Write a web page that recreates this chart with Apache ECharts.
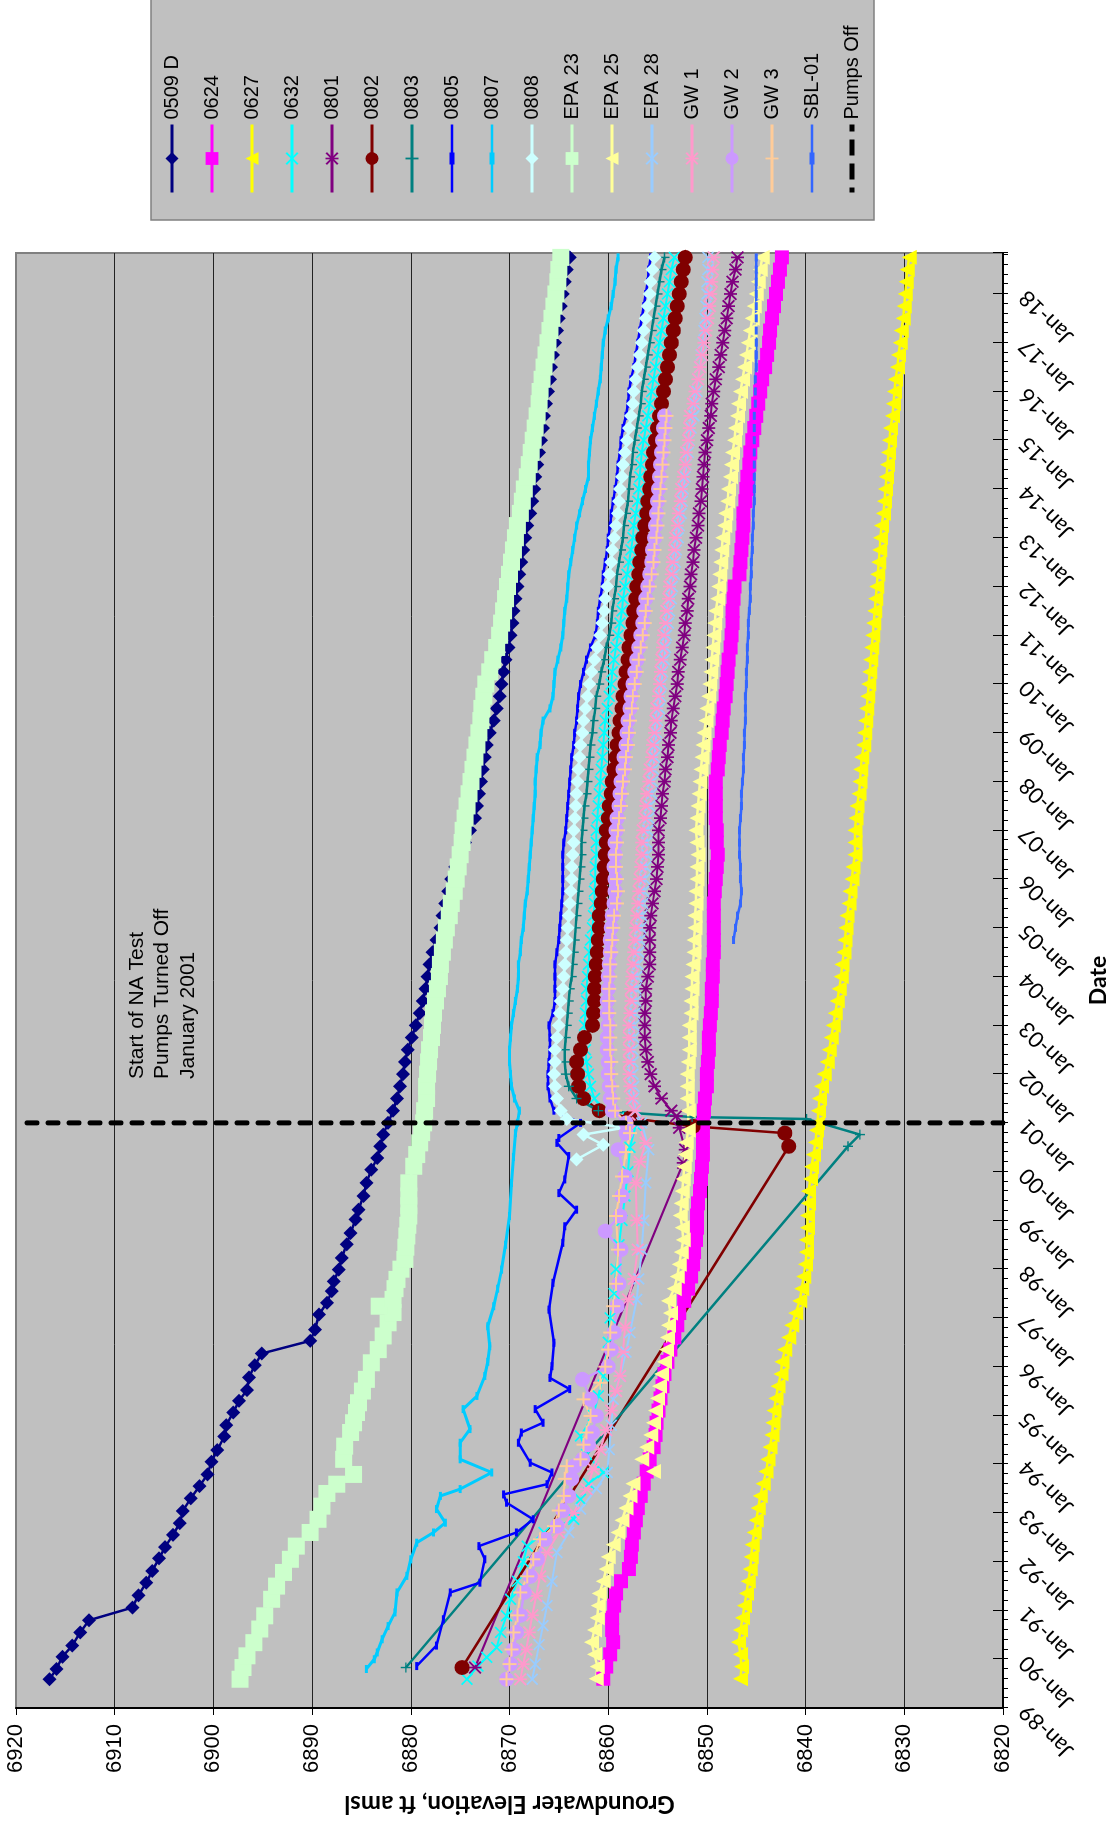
<!DOCTYPE html>
<html><head><meta charset="utf-8">
<script src="https://cdn.jsdelivr.net/npm/echarts@6/dist/echarts.min.js"></script>
<style>
html,body{margin:0;padding:0;width:1117px;height:1826px;overflow:hidden;background:#fff}
#chart{position:absolute;left:0;top:0;width:1826px;height:1117px;transform-origin:0 0;transform:translate(0,1826px) rotate(-90deg)}
</style></head>
<body><div id="chart"></div>
<script>
// ---------- tick labels ----------
const dateTickLabels = ['Jan-89','Jan-90','Jan-91','Jan-92','Jan-93','Jan-94','Jan-95','Jan-96','Jan-97','Jan-98','Jan-99','Jan-00','Jan-01','Jan-02','Jan-03','Jan-04','Jan-05','Jan-06','Jan-07','Jan-08','Jan-09','Jan-10','Jan-11','Jan-12','Jan-13','Jan-14','Jan-15','Jan-16','Jan-17','Jan-18'];
const firstYear = 1989;
const lastDate = 2018.84;
const elevMin = 6820, elevMax = 6920, elevStep = 10;
const pumpsOffDate = 2001.0;

// ---------- quarterly dates after pumps off (decimal years) ----------
const Q = [2001.25,2001.5,2001.75,
2002,2002.25,2002.5,2002.75,2003,2003.25,2003.5,2003.75,2004,2004.25,2004.5,2004.75,
2005,2005.25,2005.5,2005.75,2006,2006.25,2006.5,2006.75,2007,2007.25,2007.5,2007.75,
2008,2008.25,2008.5,2008.75,2009,2009.25,2009.5,2009.75,2010,2010.25,2010.5,2010.75,
2011,2011.25,2011.5,2011.75,2012,2012.25,2012.5,2012.75,2013,2013.25,2013.5,2013.75,
2014,2014.25,2014.5,2014.75,2015,2015.25,2015.5,2015.75,2016,2016.25,2016.5,2016.75,
2017,2017.25,2017.5,2017.75,2018,2018.25,2018.5,2018.75];

// ---------- readings up to the pumps-off date: [decimal year, elevation] ----------
const p0509 = [[1989.59,6916.6],[1989.80,6915.9],[1990.05,6915.3],[1990.28,6914.3],[1990.55,6913.5],[1990.80,6912.6],[1991.06,6908.2],[1991.31,6907.6],[1991.57,6906.8],[1991.81,6906.2],[1992.07,6905.5],[1992.30,6904.9],[1992.55,6904.1],[1992.79,6903.4],[1993.04,6903.1],[1993.30,6902.3],[1993.55,6901.4],[1993.79,6900.6],[1994.05,6900.2],[1994.29,6899.6],[1994.57,6898.9],[1994.80,6898.7],[1995.06,6898.0],[1995.30,6897.4],[1995.52,6896.6],[1995.78,6896.4],[1996.03,6895.8],[1996.27,6895.1],[1996.53,6890.2],[1996.76,6889.7],[1997.07,6889.3],[1997.31,6888.5],[1997.55,6888.0],[1997.75,6887.8],[1997.99,6887.3],[1998.23,6887.0],[1998.51,6886.5],[1998.74,6886.1],[1999.02,6885.6],[1999.22,6885.3],[1999.50,6884.8],[1999.77,6884.5],[2000.04,6884.0],[2000.28,6883.4],[2000.52,6883.1],[2000.76,6882.8],[2001.00,6882.3]];
const p0624 = [[1989.6,6860.5],[1989.85,6860.2],[1990.1,6859.8],[1990.35,6859.5],[1990.6,6859.6],[1990.85,6859.6],[1991.1,6859.4],[1991.35,6859.2],[1991.6,6858.7],[1991.85,6857.9],[1992.1,6857.7],[1992.35,6857.6],[1992.6,6857.4],[1992.85,6857.2],[1993.1,6857.0],[1993.35,6856.7],[1993.6,6856.4],[1993.85,6856.1],[1994.1,6855.8],[1994.35,6855.4],[1994.6,6855.2],[1994.85,6855.1],[1995.1,6854.9],[1995.35,6854.7],[1995.6,6854.5],[1995.85,6854.3],[1996.1,6854.0],[1996.35,6853.7],[1996.6,6853.3],[1996.85,6853.0],[1997.1,6852.8],[1997.35,6852.3],[1997.6,6851.9],[1997.85,6851.6],[1998.1,6851.4],[1998.35,6851.3],[1998.6,6851.1],[1998.85,6851.0],[1999.1,6851.0],[1999.35,6850.9],[1999.6,6850.7],[1999.85,6850.6],[2000.1,6850.5],[2000.35,6850.4],[2000.6,6850.4],[2000.85,6850.4],[2001.0,6850.4]];
const p0627 = [[1989.6,6846.6],[1989.85,6846.5],[1990.1,6846.6],[1990.35,6846.8],[1990.6,6846.6],[1990.85,6846.4],[1991.1,6846.2],[1991.35,6846.0],[1991.6,6845.8],[1991.85,6845.6],[1992.1,6845.5],[1992.35,6845.4],[1992.6,6845.2],[1992.85,6845.0],[1993.1,6844.8],[1993.35,6844.6],[1993.6,6844.3],[1993.85,6844.0],[1994.1,6843.8],[1994.35,6843.6],[1994.6,6843.4],[1994.85,6843.3],[1995.1,6843.2],[1995.35,6843.0],[1995.6,6842.8],[1995.85,6842.5],[1996.1,6842.4],[1996.35,6842.1],[1996.6,6841.7],[1996.85,6841.4],[1997.1,6841.0],[1997.35,6840.6],[1997.6,6840.4],[1997.85,6840.2],[1998.1,6840.0],[1998.35,6839.9],[1998.6,6839.9],[1998.85,6839.8],[1999.1,6839.8],[1999.35,6839.7],[1999.6,6839.7],[1999.85,6839.5],[2000.1,6839.4],[2000.35,6839.2],[2000.6,6839.0],[2000.85,6838.9],[2001.0,6838.8]];
const p0632 = [[1989.59,6874.3],[1989.86,6873.2],[1990.04,6872.3],[1990.24,6871.3],[1990.55,6870.9],[1990.89,6870.3],[1991.23,6869.9],[1991.60,6869.2],[1992.00,6868.6],[1992.32,6868.2],[1992.60,6866.5],[1992.87,6863.5],[1993.28,6862.8],[1993.60,6862.0],[1993.83,6860.5],[1994.20,6862.2],[1994.58,6862.8],[1995.00,6861.5],[1995.40,6861.0],[1995.81,6860.5],[1996.50,6860.0],[1997.00,6859.8],[1997.50,6859.4],[1998.00,6859.2],[1998.50,6858.9],[1999.00,6858.6],[1999.50,6858.3],[2000.00,6858.0],[2000.50,6857.8],[2000.95,6857.2],[2001.10,6858.0]];
const p0801 = [[1989.83,6873.5],[2000.18,6852.4],[2000.45,6852.2],[2000.90,6852.8],[2001.14,6853.1]];
const p0802 = [[1989.83,6874.8],[2000.52,6841.7],[2000.79,6842.1],[2000.93,6851.4],[2001.10,6857.8]];
const p0803 = [[1989.83,6880.5],[2000.52,6835.7],[2000.76,6834.5],[2001.08,6839.9],[2001.12,6851.5]];
const p0805 = [[1989.86,6879.4],[1990.28,6877.4],[1990.82,6876.7],[1991.37,6876.0],[1991.57,6873.0],[1992.05,6872.5],[1992.32,6873.1],[1992.60,6869.3],[1992.87,6867.6],[1993.21,6870.3],[1993.38,6870.6],[1993.59,6866.2],[1993.83,6865.7],[1994.03,6867.9],[1994.44,6869.1],[1994.65,6868.8],[1994.85,6866.6],[1995.13,6867.4],[1995.54,6863.9],[1995.77,6865.9],[1996.01,6865.7],[1996.49,6865.5],[1997.17,6866.0],[1997.72,6865.6],[1998.54,6864.6],[1998.88,6864.4],[1999.22,6863.2],[1999.56,6865.0],[1999.84,6864.4],[2000.32,6864.0],[2000.59,6865.2],[2000.69,6865.0],[2001.00,6862.8]];
const p0807 = [[1989.80,6884.5],[1990.00,6883.7],[1990.14,6883.4],[1990.41,6882.9],[1990.68,6882.3],[1990.96,6881.6],[1991.37,6881.4],[1991.71,6880.4],[1992.05,6880.0],[1992.39,6879.4],[1992.60,6877.7],[1992.80,6876.5],[1993.08,6877.4],[1993.35,6877.0],[1993.49,6875.0],[1993.83,6871.8],[1994.10,6875.0],[1994.44,6875.0],[1994.72,6874.0],[1995.13,6874.7],[1995.40,6873.3],[1995.81,6872.5],[1996.10,6872.2],[1996.42,6872.0],[1996.83,6872.2],[1997.24,6871.6],[1997.60,6871.2],[1997.99,6870.8],[1998.50,6870.4],[1999.09,6870.0],[1999.77,6869.8],[2000.30,6869.6],[2000.79,6869.4],[2001.00,6869.2]];
const p0808 = [[2000.25,6863.2],[2000.55,6860.5],[2000.76,6862.5],[2000.90,6858.4],[2001.08,6864.2]];
const pEPA23 = [[1989.59,6897.3],[1989.83,6897.0],[1990.07,6896.6],[1990.34,6895.9],[1990.62,6895.3],[1990.89,6894.8],[1991.23,6894.1],[1991.50,6893.6],[1991.78,6892.9],[1992.05,6892.2],[1992.32,6891.6],[1992.60,6890.2],[1992.87,6889.4],[1993.14,6889.0],[1993.40,6888.5],[1993.59,6887.5],[1993.79,6885.8],[1994.10,6886.8],[1994.37,6886.7],[1994.65,6886.1],[1994.85,6885.8],[1995.06,6885.5],[1995.26,6885.3],[1995.50,6884.9],[1995.74,6884.5],[1996.08,6884.0],[1996.35,6883.3],[1996.63,6882.8],[1996.90,6882.3],[1997.11,6881.8],[1997.24,6883.2],[1997.38,6881.8],[1997.60,6881.6],[1997.79,6881.4],[1998.00,6881.0],[1998.20,6880.6],[1998.45,6880.5],[1998.68,6880.4],[1998.90,6880.3],[1999.09,6880.2],[1999.30,6880.2],[1999.50,6880.2],[1999.77,6880.2],[2000.11,6879.7],[2000.35,6879.4],[2000.59,6879.1],[2000.80,6878.9],[2001.00,6878.7]];
const pEPA25 = [[1989.6,6861.2],[1989.85,6861.1],[1990.1,6861.4],[1990.35,6861.7],[1990.6,6861.4],[1990.85,6861.1],[1991.1,6861.0],[1991.35,6860.9],[1991.6,6860.5],[1991.85,6860.2],[1992.1,6860.0],[1992.35,6859.5],[1992.6,6859.0],[1992.85,6858.6],[1993.1,6858.2],[1993.35,6857.8],[1993.6,6857.5],[1993.85,6855.4],[1994.1,6856.6],[1994.35,6856.1],[1994.6,6855.7],[1994.85,6855.4],[1995.1,6855.2],[1995.35,6855.0],[1995.6,6854.8],[1995.85,6854.6],[1996.1,6854.3],[1996.35,6854.1],[1996.6,6854.0],[1996.85,6853.9],[1997.1,6853.7],[1997.35,6853.9],[1997.6,6853.3],[1997.85,6853.0],[1998.1,6852.8],[1998.35,6852.6],[1998.6,6852.4],[1998.85,6852.5],[1999.1,6852.7],[1999.35,6852.6],[1999.6,6852.5],[1999.85,6852.4],[2000.1,6852.3],[2000.35,6852.2],[2000.6,6852.1],[2000.85,6851.9]];
const pEPA28 = [[1989.59,6867.7],[1989.90,6867.4],[1990.30,6867.0],[1990.69,6866.6],[1991.10,6866.2],[1991.60,6865.7],[1992.19,6865.2],[1992.60,6864.0],[1993.08,6862.8],[1993.50,6861.2],[1993.83,6860.1],[1994.30,6859.9],[1994.80,6859.7],[1995.33,6859.5],[1995.80,6858.8],[1996.30,6858.2],[1996.70,6857.8],[1997.38,6857.1],[1997.80,6856.9],[1998.40,6856.6],[1999.00,6856.4],[1999.77,6856.2],[2000.45,6855.9],[2001.00,6856.6]];
const pGW1 = [[1989.59,6868.9],[1989.90,6868.6],[1990.20,6868.3],[1990.55,6868.0],[1990.90,6867.7],[1991.30,6867.3],[1991.70,6866.9],[1992.19,6866.2],[1992.60,6865.0],[1993.00,6863.5],[1993.49,6862.2],[1993.90,6861.5],[1994.30,6860.8],[1994.70,6860.2],[1995.10,6859.7],[1995.50,6859.2],[1995.81,6858.8],[1996.30,6858.5],[1996.80,6858.3],[1997.38,6858.0],[1997.80,6857.4],[1998.40,6857.0],[1999.00,6857.1],[1999.77,6857.2],[2000.20,6856.8],[2000.59,6856.2],[2001.00,6857.0]];
const pGW2 = [[1989.59,6870.3],[1989.90,6869.9],[1990.20,6869.6],[1990.55,6869.3],[1990.90,6868.9],[1991.37,6868.5],[1991.70,6867.9],[1992.05,6867.2],[1992.46,6866.4],[1992.73,6865.2],[1993.05,6864.6],[1993.35,6864.0],[1993.70,6863.7],[1993.96,6863.4],[1994.10,6862.6],[1994.40,6862.0],[1994.65,6861.6],[1994.99,6861.2],[1995.33,6861.8],[1995.74,6862.6],[1996.00,6860.0],[1996.35,6859.7],[1996.70,6859.4],[1997.24,6859.1],[1997.70,6858.9],[1998.40,6858.7],[1998.78,6860.3],[1999.09,6858.8],[1999.50,6858.6],[1999.90,6858.3],[2000.45,6859.0],[2000.79,6858.2],[2001.00,6858.2]];
const pGW3 = [[1989.59,6870.3],[1989.90,6870.0],[1990.20,6869.8],[1990.55,6869.6],[1990.90,6869.2],[1991.37,6868.9],[1991.70,6868.2],[1992.05,6867.6],[1992.46,6866.9],[1992.73,6865.5],[1993.05,6865.0],[1993.35,6864.5],[1993.70,6864.4],[1993.96,6864.2],[1994.10,6862.8],[1994.40,6862.5],[1994.65,6862.2],[1994.99,6861.8],[1995.33,6862.5],[1995.67,6860.8],[1996.00,6860.3],[1996.35,6860.0],[1996.70,6859.8],[1997.24,6859.5],[1997.70,6859.2],[1998.40,6859.0],[1999.09,6859.2],[1999.50,6858.9],[1999.90,6858.6],[2000.40,6858.2],[2000.79,6857.8],[2001.00,6858.2]];
const pSBL = [];

// ---------- quarterly readings after pumps off (aligned with Q) ----------
const v0509 = [6881.8,6881.4,6881.1,
6880.8,6880.6,6880.3,6879.9, 6879.5,6879.1,6878.8,6878.5, 6878.3,6878.1,6877.8,6877.4,
6877.0,6876.8,6876.5,6876.2, 6875.9,6875.5,6875.0,6874.5, 6874.0,6873.5,6873.3,6873.1,
6872.9,6872.7,6872.5,6872.3, 6872.0,6871.6,6871.3,6871.0, 6870.8,6870.6,6870.4,6870.1,
6869.9,6869.7,6869.6,6869.4, 6869.2,6869.0,6868.8,6868.6, 6868.4,6868.2,6867.9,6867.7,
6867.5,6867.4,6867.2,6867.0, 6866.8,6866.6,6866.5,6866.3, 6866.1,6865.9,6865.8,6865.6,
6865.4,6865.2,6865.0,6864.8, 6864.6,6864.4,6864.2,6863.9];
const v0624 = [6850.3,6850.2,6850.0,
6850.0,6849.9,6849.8,6849.8, 6849.7,6849.6,6849.5,6849.5, 6849.4,6849.4,6849.3,6849.3,
6849.3,6849.3,6849.3,6849.2, 6849.1,6849.0,6848.9,6849.0, 6849.0,6849.1,6849.1,6849.1,
6849.1,6848.9,6848.8,6848.7, 6848.5,6848.4,6848.3,6848.1, 6848.0,6847.9,6847.8,6847.6,
6847.5,6847.4,6847.4,6847.3, 6847.2,6846.7,6846.6,6846.5, 6846.4,6846.3,6846.3,6846.1,
6846.0,6845.9,6845.7,6845.6, 6845.4,6845.2,6845.0,6844.8, 6844.6,6844.4,6844.1,6843.9,
6843.7,6843.6,6843.4,6843.2, 6843.0,6842.8,6842.6,6842.4];
const v0627 = [6838.7,6838.6,6838.4,
6838.1,6837.8,6837.6,6837.4, 6837.2,6837.0,6836.8,6836.6, 6836.4,6836.3,6836.1,6836.0,
6835.9,6835.8,6835.6,6835.5, 6835.3,6835.2,6835.0,6835.0, 6835.0,6834.9,6834.8,6834.6,
6834.5,6834.4,6834.3,6834.1, 6834.0,6833.9,6833.8,6833.7, 6833.6,6833.5,6833.4,6833.3,
6833.2,6833.1,6833.0,6832.9, 6832.8,6832.7,6832.6,6832.5, 6832.4,6832.3,6832.1,6832.0,
6831.9,6831.8,6831.7,6831.6, 6831.5,6831.4,6831.2,6831.1, 6831.0,6830.9,6830.7,6830.6,
6830.4,6830.3,6830.1,6830.0, 6829.9,6829.8,6829.7,6829.5];
const v0632 = [6860.5,6861.4,6861.8,
6862.0,6862.2,6862.3,6862.4, 6862.4,6862.3,6862.2,6862.2, 6862.1,6862.0,6861.9,6861.8,
6861.6,6861.5,6861.4,6861.4, 6861.3,6861.3,6861.2,6861.2, 6861.2,6861.1,6861.0,6860.9,
6860.8,6860.7,6860.6,6860.5, 6860.4,6860.3,6860.1,6859.9, 6859.7,6859.6,6859.4,6859.2,
6859.0,6858.8,6858.6,6858.5, 6858.3,6858.1,6857.9,6857.7, 6857.5,6857.4,6857.2,6857.0,
6856.9,6856.8,6856.7,6856.6, 6856.4,6856.2,6856.0,6855.8, 6855.6,6855.4,6855.2,6855.0,
6854.8,6854.6,6854.4,6854.2, 6854.0,6853.8,6853.6,6853.3];
const v0801 = [6853.6,6854.6,6855.3,
6855.7,6856.0,6856.2,6856.3, 6856.3,6856.3,6856.2,6856.2, 6856.0,6855.8,6855.8,6855.8,
6855.8,6855.7,6855.5,6855.3, 6855.1,6855.0,6854.9,6854.9, 6854.9,6854.7,6854.6,6854.5,
6854.3,6854.2,6854.0,6853.9, 6853.7,6853.6,6853.4,6853.2, 6853.0,6852.9,6852.7,6852.5,
6852.3,6852.2,6852.0,6851.9, 6851.7,6851.6,6851.4,6851.3, 6851.1,6850.9,6850.8,6850.6,
6850.5,6850.4,6850.3,6850.2, 6850.0,6849.8,6849.6,6849.5, 6849.3,6849.1,6848.8,6848.6,
6848.4,6848.2,6848.0,6847.8, 6847.6,6847.4,6847.1,6846.9];
const v0802 = [6860.9,6862.5,6863.0,
6863.1,6863.2,6862.8,6862.4, 6861.6,6861.5,6861.4,6861.4, 6861.3,6861.2,6861.1,6861.0,
6860.9,6860.9,6860.7,6860.6, 6860.5,6860.4,6860.3,6860.2, 6860.2,6860.0,6859.9,6859.7,
6859.6,6859.4,6859.2,6859.1, 6858.9,6858.8,6858.6,6858.5, 6858.3,6858.2,6858.0,6857.9,
6857.7,6857.5,6857.4,6857.2, 6857.1,6856.9,6856.8,6856.6, 6856.5,6856.3,6856.1,6856.0,
6855.8,6855.7,6855.5,6855.4, 6855.2,6855.0,6854.8,6854.6, 6854.4,6854.2,6854.0,6853.8,
6853.6,6853.4,6853.2,6853.0, 6852.8,6852.6,6852.4,6852.2];
const v0803 = [6861.0,6863.2,6864.0,
6864.3,6864.4,6864.4,6864.3, 6864.2,6864.1,6864.0,6863.9, 6863.7,6863.6,6863.5,6863.4,
6863.3,6863.2,6863.1,6863.0, 6862.9,6862.8,6862.7,6862.7, 6862.6,6862.5,6862.4,6862.2,
6862.1,6862.0,6861.9,6861.8, 6861.6,6861.5,6861.3,6861.2, 6860.9,6860.7,6860.4,6860.2,
6859.9,6859.7,6859.6,6859.4, 6859.2,6859.1,6858.9,6858.7, 6858.5,6858.4,6858.2,6858.0,
6857.9,6857.8,6857.6,6857.5, 6857.3,6857.1,6856.9,6856.7, 6856.6,6856.4,6856.2,6856.0,
6855.8,6855.6,6855.4,6855.2, 6855.0,6854.8,6854.6,6854.3];
const v0805 = [6865.5,6865.9,6866.1,
6866.1,6866.0,6865.9,6865.9, 6866.0,6865.6,6865.4,6865.4, 6865.4,6865.4,6865.2,6865.0,
6864.9,6864.8,6864.7,6864.6, 6864.6,6864.6,6864.6,6864.5, 6864.3,6864.2,6864.1,6864.0,
6863.9,6863.8,6863.7,6863.5, 6863.4,6863.2,6863.1,6863.0, 6862.8,6862.5,6862.2,6861.8,
6861.3,6861.1,6861.0,6860.8, 6860.6,6860.5,6860.3,6860.1, 6860.0,6859.8,6859.7,6859.5,
6859.3,6859.1,6859.0,6858.8, 6858.7,6858.5,6858.2,6858.0, 6857.9,6857.7,6857.4,6857.2,
6857.0,6856.8,6856.6,6856.4, 6856.2,6856.0,6855.9,6855.7];
const v0807 = [6869.0,6869.5,6869.8,
6869.9,6870.0,6870.0,6869.9, 6869.8,6869.6,6869.4,6869.2, 6869.1,6869.1,6868.9,6868.8,
6868.6,6868.5,6868.4,6868.2, 6868.1,6868.0,6867.9,6867.8, 6867.7,6867.6,6867.5,6867.4,
6867.4,6867.3,6867.2,6866.9, 6866.8,6866.6,6865.9,6865.6, 6865.5,6865.4,6865.1,6864.8,
6864.6,6864.5,6864.4,6864.2, 6864.1,6864.0,6863.8,6863.6, 6863.4,6863.2,6862.9,6862.6,
6862.3,6862.0,6862.0,6861.9, 6861.8,6861.6,6861.4,6861.2, 6861.0,6860.8,6860.7,6860.6,
6860.5,6860.3,6860.0,6859.7, 6859.5,6859.3,6859.2,6859.0];
const v0808 = [6864.8,6865.2,6865.4,
6865.5,6865.4,6865.4,6865.2, 6865.0,6864.9,6864.8,6864.6, 6864.5,6864.4,6864.3,6864.2,
6864.1,6864.0,6863.9,6863.8, 6863.7,6863.7,6863.6,6863.5, 6863.5,6863.4,6863.3,6863.2,
6863.1,6863.0,6862.9,6862.8, 6862.6,6862.5,6862.3,6862.1, 6861.9,6861.7,6861.4,6861.1,
6860.8,6860.6,6860.4,6860.3, 6860.1,6859.9,6859.7,6859.6, 6859.4,6859.2,6859.0,6858.9,
6858.8,6858.6,6858.5,6858.3, 6858.1,6857.9,6857.7,6857.5, 6857.4,6857.2,6857.0,6856.8,
6856.6,6856.4,6856.2,6856.0, 6855.8,6855.7,6855.5,6855.3];
const vEPA23 = [6878.6,6878.4,6878.4,
6878.3,6878.2,6878.1,6877.9, 6877.8,6877.7,6877.5,6877.3, 6877.1,6877.0,6876.8,6876.6,
6876.4,6876.1,6875.9,6875.6, 6875.4,6875.2,6875.0,6874.8, 6874.7,6874.5,6874.3,6874.1,
6873.9,6873.7,6873.5,6873.3, 6873.1,6872.9,6872.8,6872.6, 6872.4,6872.0,6871.7,6871.3,
6871.0,6870.8,6870.6,6870.4, 6870.2,6870.0,6869.8,6869.6, 6869.4,6869.2,6868.9,6868.7,
6868.5,6868.2,6868.0,6867.8, 6867.6,6867.4,6867.2,6867.0, 6866.9,6866.7,6866.5,6866.3,
6866.1,6865.9,6865.7,6865.5, 6865.3,6865.1,6865.0,6864.8];
const vEPA25 = [6851.9,6852.0,6852.0,
6852.0,6851.9,6851.8,6851.8, 6851.8,6851.6,6851.6,6851.5, 6851.5,6851.4,6851.3,6851.3,
6851.2,6851.2,6851.1,6851.1, 6851.0,6851.0,6850.9,6851.0, 6851.1,6851.0,6850.9,6850.8,
6850.7,6850.6,6850.5,6850.4, 6850.3,6850.1,6850.0,6849.8, 6849.7,6849.6,6849.5,6849.4,
6849.3,6849.2,6849.1,6848.9, 6848.8,6848.7,6848.6,6848.5, 6848.4,6848.2,6848.1,6847.9,
6847.8,6847.6,6847.5,6847.4, 6847.2,6847.1,6846.9,6846.8, 6846.6,6846.4,6846.2,6846.0,
6845.8,6845.6,6845.4,6845.2, 6845.0,6844.8,6844.6,6844.4];
const vEPA28 = [6857.2,6857.4,6857.4,
6857.5,6857.5,6857.5,6857.4, 6857.4,6857.3,6857.2,6857.2, 6857.1,6857.0,6856.9,6856.8,
6856.7,6856.6,6856.5,6856.4, 6856.3,6856.2,6856.1,6856.1, 6856.0,6855.9,6855.8,6855.6,
6855.5,6855.4,6855.3,6855.2, 6855.1,6855.0,6854.8,6854.7, 6854.6,6854.5,6854.3,6854.2,
6854.1,6853.9,6853.8,6853.6, 6853.5,6853.3,6853.2,6853.1, 6852.9,6852.8,6852.6,6852.5,
6852.4,6852.2,6852.1,6851.9, 6851.8,6851.6,6851.3,6851.2, 6851.0,6850.9,6850.7,6850.6,
6850.4,6850.3,6850.2,6850.1, 6850.0,6850.0,6849.9,6849.9];
const vGW1 = [6857.3,6857.6,6857.8,
6857.9,6857.9,6857.9,6857.9, 6857.9,6857.8,6857.7,6857.7, 6857.6,6857.5,6857.4,6857.3,
6857.2,6857.1,6857.0,6856.9, 6856.8,6856.7,6856.6,6856.6, 6856.5,6856.3,6856.2,6856.1,
6855.9,6855.8,6855.6,6855.5, 6855.3,6855.2,6855.1,6854.9, 6854.8,6854.7,6854.6,6854.5,
6854.4,6854.2,6854.1,6853.9, 6853.8,6853.6,6853.5,6853.3, 6853.2,6853.0,6852.9,6852.7,
6852.6,6852.4,6852.2,6852.1, 6851.9,6851.8,6851.7,6851.4, 6851.2,6850.9,6850.7,6850.5,
6850.3,6850.1,6849.9,6849.7, 6849.6,6849.5,6849.4,6849.3];
const vGW2 = [6859.6,6859.8,6859.9,
6860.0,6860.0,6860.1,6860.1, 6860.0,6860.1,6860.1,6860.0, 6860.0,6859.9,6859.8,6859.8,
6859.7,6859.6,6859.4,6859.3, 6859.3,6859.4,6859.3,6859.3, 6859.2,6859.1,6858.9,6858.8,
6858.7,6858.5,6858.4,6858.2, 6858.1,6858.0,6857.8,6857.7, 6857.5,6857.3,6857.1,6856.9,
6856.7,6856.5,6856.4,6856.2, 6856.0,6855.8,6855.6,6855.5, 6855.3,6855.2,6855.1,6855.0,
6854.9,6854.8,6854.7,6854.6, 6854.5,6854.4,6854.3,null, null,null,null,null,
null,null,null,null, null,null,null,null];
const vGW3 = [6859.3,6859.5,6859.6,
6859.7,6859.7,6859.8,6859.8, 6859.8,6859.9,6859.9,6859.9, 6859.8,6859.8,6859.7,6859.6,
6859.5,6859.4,6859.1,6859.0, 6859.1,6859.2,6859.2,6859.1, 6859.0,6858.9,6858.7,6858.6,
6858.5,6858.3,6858.2,6858.0, 6857.9,6857.8,6857.6,6857.5, 6857.3,6857.1,6856.9,6856.7,
6856.5,6856.3,6856.2,6856.0, 6855.8,6855.6,6855.4,6855.3, 6855.1,6855.0,6854.9,6854.8,
6854.7,6854.6,6854.5,6854.4, 6854.3,6854.2,6854.1,null, null,null,null,null,
null,null,null,null, null,null,null,null];
const vSBL = [null,null,null,
null,null,null,null, null,null,null,null, null,null,null,6847.3,
6847.1,6846.9,6846.6,6846.5, 6846.6,6846.6,6846.7,6846.7, 6846.7,6846.6,6846.5,6846.5,
6846.4,6846.3,6846.3,6846.2, 6846.2,6846.1,6846.1,6846.1, 6846.0,6846.0,6845.9,6845.9,
6845.8,6845.8,6845.7,6845.6, 6845.6,6845.5,6845.5,6845.4, 6845.4,6845.3,6845.3,6845.2,
6845.2,6845.2,6845.2,6845.2, 6845.2,6845.2,6845.2,6845.1, 6845.1,6845.1,6845.0,6845.0,
6845.0,6845.0,6845.0,6845.0, 6845.0,6845.0,6845.0,6845.0];

// ---------- marker shapes & styles ----------
const X_SYM = 'path://M1,0L5,4L9,0L10,1L6,5L10,9L9,10L5,6L1,10L0,9L4,5L0,1Z';
const STAR_SYM = 'path://M1,0L5,4L9,0L10,1L6,5L10,9L9,10L5,6L1,10L0,9L4,5L0,1Z M4.35,0L5.65,0L5.65,10L4.35,10Z';
const PLUS_SYM = 'path://M4.3,0H5.7V4.3H10V5.7H5.7V10H4.3V5.7H0V4.3H4.3Z';
const DASH_ICON = 'path://M0,1.25H68V3.75H0Z M28,0H40V5H28Z';
const PUMP_ICON = 'path://M0,0H5V5H0Z M13,0H29V5H13Z M37,0H53V5H37Z M61,0H68V5H61Z';

const defs = [
 {name:'0509 D', color:'#000080', symbol:'diamond', size:14, width:2.5, pre:p0509, post:v0509},
 {name:'0624', color:'#FF00FF', symbol:'rect', size:14, width:2.5, pre:p0624, post:v0624},
 {name:'0627', color:'#FFFF00', symbol:'triangle', size:15, width:2.5, pre:p0627, post:v0627},
 {name:'0632', color:'#00FFFF', symbol:X_SYM, size:12, width:2, pre:p0632, post:v0632},
 {name:'0801', color:'#800080', symbol:STAR_SYM, size:13, width:2, pre:p0801, post:v0801},
 {name:'0802', color:'#800000', symbol:'circle', size:15, width:2.5, pre:p0802, post:v0802},
 {name:'0803', color:'#008080', symbol:PLUS_SYM, size:10, width:2.5, pre:p0803, post:v0803},
 {name:'0805', color:'#0000FF', symbol:'rect', size:[8,3], width:2.5, pre:p0805, post:v0805, icon:DASH_ICON},
 {name:'0807', color:'#00CCFF', symbol:'rect', size:[8,3], width:3, pre:p0807, post:v0807, icon:DASH_ICON},
 {name:'0808', color:'#CCFFFF', symbol:'diamond', size:14, width:2.5, pre:p0808, post:v0808},
 {name:'EPA 23', color:'#CCFFCC', symbol:'rect', size:17, width:2.5, pre:pEPA23, post:vEPA23},
 {name:'EPA 25', color:'#FFFF99', symbol:'triangle', size:15, width:2.5, pre:pEPA25, post:vEPA25},
 {name:'EPA 28', color:'#99CCFF', symbol:X_SYM, size:12, width:2, pre:pEPA28, post:vEPA28},
 {name:'GW 1', color:'#FF99CC', symbol:STAR_SYM, size:13, width:2, pre:pGW1, post:vGW1},
 {name:'GW 2', color:'#CC99FF', symbol:'circle', size:15, width:2.5, pre:pGW2, post:vGW2},
 {name:'GW 3', color:'#FFCC99', symbol:PLUS_SYM, size:14, width:2, pre:pGW3, post:vGW3},
 {name:'SBL-01', color:'#3366FF', symbol:'rect', size:[8,3], width:2.5, pre:pSBL, post:vSBL, icon:DASH_ICON}
];

function buildData(pre, post) {
  const d = pre.map(p => [p[0], p[1]]);
  post.forEach((v, i) => { if (v !== null) d.push([Q[i], v]); });
  return d;
}

const series = defs.map(s => ({
  name: s.name, type: 'line', data: buildData(s.pre, s.post),
  symbol: s.symbol, symbolSize: s.size, showSymbol: true, showAllSymbol: true,
  lineStyle: {color: s.color, width: s.width}, itemStyle: {color: s.color},
  emphasis: {disabled: true}, clip: true
}));
series.push({
  name: 'Pumps Off', type: 'line', data: [[pumpsOffDate, elevMin], [pumpsOffDate, elevMax]],
  symbol: 'none', lineStyle: {color: '#000', width: 5, type: [10, 11], cap: 'round'},
  itemStyle: {color: '#000'}, emphasis: {disabled: true}, z: 5
});

const legendData = defs.map(s => s.icon ? {name: s.name, icon: s.icon} : {name: s.name});
legendData.push({name: 'Pumps Off', icon: PUMP_ICON});

const chart = echarts.init(document.getElementById('chart'), null, {renderer: 'canvas', width: 1826, height: 1117});
chart.setOption({
  animation: false,
  backgroundColor: '#fff',
  grid: {left: 118, right: 253, top: 16, bottom: 114, show: true, backgroundColor: '#C0C0C0', borderColor: '#808080', borderWidth: 2, containLabel: false},
  legend: {
    orient: 'vertical', left: 1606, top: 151, padding: [11, 40, 12, 26],
    itemWidth: 68, itemHeight: 16, itemGap: 20, selectedMode: false,
    backgroundColor: '#C0C0C0', borderColor: '#808080', borderWidth: 1.5,
    lineStyle: {width: 3},
    textStyle: {fontFamily: 'Liberation Sans', fontSize: 20, color: '#000'},
    data: legendData
  },
  xAxis: [{
    type: 'value', min: firstYear, max: lastDate, interval: 1, position: 'bottom',
    axisLine: {show: true, onZero: false, lineStyle: {color: '#000', width: 2}},
    axisTick: {show: true, inside: false, length: 5, lineStyle: {color: '#000', width: 1}},
    minorTick: {show: true, splitNumber: 5, length: 5, lineStyle: {color: '#000', width: 1}},
    splitLine: {show: false},
    axisLabel: {
      rotate: 45, margin: 20, fontFamily: 'Lato', fontSize: 22, color: '#000',
      formatter: v => (Math.abs(v - Math.round(v)) < 1e-6 && dateTickLabels[Math.round(v) - firstYear]) ? dateTickLabels[Math.round(v) - firstYear] : ''
    },
    name: 'Date', nameLocation: 'middle', nameGap: 84,
    nameTextStyle: {fontFamily: 'Lato', fontWeight: 'bold', fontSize: 23, color: '#000'}
  }, {
    type: 'value', min: firstYear, max: lastDate, interval: 1, position: 'bottom',
    axisLine: {show: false}, axisLabel: {show: false}, splitLine: {show: false},
    axisTick: {show: true, inside: true, length: 10, lineStyle: {color: '#000', width: 1}}
  }],
  yAxis: {
    type: 'value', min: elevMin, max: elevMax, interval: elevStep, position: 'left',
    axisLine: {show: true, onZero: false, lineStyle: {color: '#000', width: 2}},
    axisTick: {show: true, inside: false, length: 7, lineStyle: {color: '#000', width: 1}},
    splitLine: {show: true, showMinLine: false, showMaxLine: false, lineStyle: {color: '#222', width: 1}},
    axisLabel: {margin: 16, fontFamily: 'Liberation Sans', fontSize: 22, color: '#000', formatter: v => String(v)},
    name: 'Groundwater Elevation, ft amsl', nameLocation: 'middle', nameGap: 84,
    nameTextStyle: {fontFamily: 'Lato', fontWeight: 'bold', fontSize: 24, color: '#000'}
  },
  graphic: [{
    type: 'text', x: 747, y: 124, z: 10,
    style: {text: 'Start of NA Test\nPumps Turned Off\nJanuary 2001', fontFamily: 'Liberation Sans', fontSize: 21, fill: '#000', lineHeight: 25.5, align: 'left', verticalAlign: 'top'}
  }],
  series: series
});
</script>
</body></html>
